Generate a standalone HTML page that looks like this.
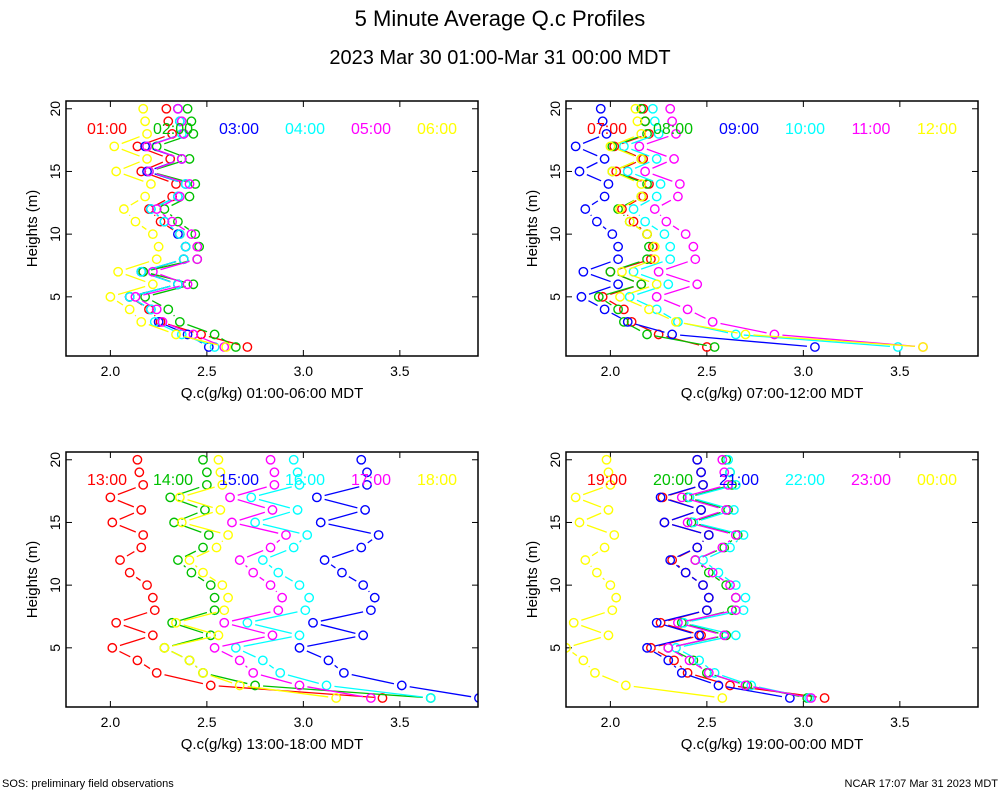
<!DOCTYPE html>
<html><head><meta charset="utf-8"><style>
body{margin:0;background:#fff;font-family:"Liberation Sans",sans-serif}
svg text{font-family:"Liberation Sans",sans-serif}
</style></head><body>
<svg id="c" width="1000" height="800" xmlns="http://www.w3.org/2000/svg">
<text x="500" y="26" font-size="22" text-anchor="middle">5 Minute Average Q.c Profiles</text>
<text x="500" y="64" font-size="20" text-anchor="middle">2023 Mar 30 01:00-Mar 31 00:00 MDT</text>
<text x="2" y="787" font-size="11">SOS: preliminary field observations</text>
<text x="998" y="787" font-size="11" text-anchor="end">NCAR 17:07 Mar 31 2023 MDT</text>
</svg>
<script>
const heights=[20,19,18,17,16,15,14,13,12,11,10,9,8,7,6,5,4,3,2,1];
const xTicks=[2.0,2.5,3.0,3.5];
const yTicks=[5,10,15,20];
const colors=["#ff0000","#00c000","#0000ff","#00ffff","#ff00ff","#ffff00"];
const labels1=["01:00","02:00","03:00","04:00","05:00","06:00"];
const labels2=["07:00","08:00","09:00","10:00","11:00","12:00"];
const labels3=["13:00","14:00","15:00","16:00","17:00","18:00"];
const labels4=["19:00","20:00","21:00","22:00","23:00","00:00"];
const p1s1=[2.29,2.30,2.32,2.14,2.31,2.16,2.34,2.32,2.20,2.26,2.36,2.39,2.38,2.17,2.35,2.10,2.20,2.26,2.47,2.71];
const p1s2=[2.40,2.42,2.43,2.24,2.41,2.20,2.44,2.41,2.28,2.35,2.44,2.46,2.45,2.17,2.43,2.18,2.30,2.36,2.54,2.65];
const p1s3=[2.35,2.36,2.38,2.18,2.37,2.19,2.39,2.35,2.21,2.28,2.35,2.39,2.38,2.16,2.35,2.10,2.21,2.25,2.40,2.51];
const p1s4=[2.35,2.36,2.37,2.19,2.37,2.20,2.39,2.35,2.21,2.28,2.36,2.39,2.38,2.16,2.35,2.10,2.21,2.23,2.37,2.54];
const p1s5=[2.35,2.37,2.38,2.19,2.37,2.20,2.41,2.36,2.24,2.32,2.42,2.45,2.45,2.22,2.40,2.13,2.24,2.27,2.43,2.59];
const p1s6=[2.17,2.18,2.19,2.02,2.19,2.03,2.21,2.18,2.07,2.13,2.22,2.25,2.24,2.04,2.22,2.00,2.10,2.16,2.34,2.60];
const p2s1=[2.17,2.18,2.20,2.02,2.17,2.03,2.20,2.17,2.06,2.12,2.19,2.22,2.21,2.00,2.16,1.96,2.07,2.11,2.25,2.50];
const p2s2=[2.16,2.18,2.19,2.01,2.16,2.01,2.19,2.16,2.04,2.10,2.19,2.20,2.19,2.00,2.16,1.94,2.04,2.07,2.19,2.54];
const p2s3=[1.95,1.96,1.98,1.82,1.97,1.84,1.99,1.97,1.87,1.93,2.01,2.04,2.04,1.86,2.04,1.85,1.97,2.09,2.32,3.06];
const p2s4=[2.22,2.23,2.25,2.07,2.24,2.09,2.26,2.24,2.12,2.18,2.28,2.31,2.31,2.12,2.30,2.10,2.24,2.35,2.65,3.49];
const p2s5=[2.31,2.32,2.34,2.15,2.33,2.18,2.36,2.35,2.23,2.29,2.39,2.43,2.44,2.25,2.45,2.24,2.40,2.53,2.85,3.62];
const p2s6=[2.13,2.14,2.16,2.00,2.16,2.01,2.16,2.16,2.05,2.10,2.19,2.23,2.23,2.06,2.24,2.05,2.20,2.34,2.70,3.62];
const p3s1=[2.14,2.15,2.17,2.00,2.16,2.01,2.17,2.16,2.05,2.10,2.19,2.22,2.23,2.03,2.22,2.01,2.14,2.24,2.52,3.41];
const p3s2=[2.48,2.50,2.50,2.31,2.49,2.33,2.51,2.48,2.35,2.42,2.52,2.54,2.54,2.32,2.52,2.28,2.41,2.48,2.75,3.66];
const p3s3=[3.30,3.33,3.33,3.07,3.32,3.09,3.39,3.30,3.11,3.20,3.31,3.37,3.35,3.05,3.31,2.98,3.13,3.21,3.51,3.91];
const p3s4=[2.95,2.97,2.98,2.73,2.97,2.75,3.02,2.95,2.79,2.87,2.98,3.03,3.01,2.71,2.98,2.65,2.79,2.88,3.12,3.66];
const p3s5=[2.83,2.85,2.85,2.62,2.84,2.63,2.91,2.83,2.67,2.74,2.83,2.89,2.87,2.59,2.84,2.54,2.67,2.74,2.98,3.35];
const p3s6=[2.56,2.57,2.58,2.36,2.57,2.37,2.61,2.55,2.41,2.48,2.58,2.61,2.59,2.34,2.56,2.28,2.41,2.48,2.67,3.17];
const p4s1=[2.45,2.47,2.48,2.27,2.47,2.28,2.51,2.45,2.32,2.39,2.48,2.51,2.50,2.26,2.47,2.21,2.33,2.40,2.62,3.11];
const p4s2=[2.60,2.62,2.63,2.40,2.61,2.42,2.66,2.59,2.44,2.51,2.60,2.65,2.63,2.37,2.60,2.30,2.43,2.50,2.71,3.02];
const p4s3=[2.45,2.47,2.48,2.26,2.47,2.28,2.51,2.45,2.31,2.39,2.48,2.51,2.50,2.24,2.46,2.19,2.30,2.37,2.56,2.93];
const p4s4=[2.61,2.62,2.65,2.41,2.64,2.43,2.69,2.62,2.48,2.56,2.65,2.70,2.69,2.38,2.65,2.34,2.46,2.54,2.73,3.03];
const p4s5=[2.58,2.59,2.61,2.37,2.60,2.40,2.65,2.58,2.44,2.53,2.62,2.65,2.65,2.35,2.59,2.30,2.41,2.51,2.70,3.04];
const p4s6=[1.98,1.99,2.00,1.82,1.99,1.84,2.02,1.97,1.87,1.93,2.00,2.03,2.01,1.81,1.99,1.77,1.86,1.92,2.08,2.58];

const NS="http://www.w3.org/2000/svg";
const svg=document.getElementById('c');
function mk(tag,attrs,parent){const e=document.createElementNS(NS,tag);for(const k in attrs)e.setAttribute(k,attrs[k]);(parent||svg).appendChild(e);return e;}
const XMIN=1.77,XMAX=3.905,YMIN=0.28,YMAX=20.62;
const panels=[
 {x:66,y:101,name:'panel-01-06',labels:labels1,series:[p1s1,p1s2,p1s3,p1s4,p1s5,p1s6],xl:'Q.c(g/kg) 01:00-06:00 MDT'},
 {x:566,y:101,name:'panel-07-12',labels:labels2,series:[p2s1,p2s2,p2s3,p2s4,p2s5,p2s6],xl:'Q.c(g/kg) 07:00-12:00 MDT'},
 {x:66,y:452,name:'panel-13-18',labels:labels3,series:[p3s1,p3s2,p3s3,p3s4,p3s5,p3s6],xl:'Q.c(g/kg) 13:00-18:00 MDT'},
 {x:566,y:452,name:'panel-19-00',labels:labels4,series:[p4s1,p4s2,p4s3,p4s4,p4s5,p4s6],xl:'Q.c(g/kg) 19:00-00:00 MDT'}];
const W=412,H=255;
panels.forEach((p,pi)=>{
 const g=mk('g',{});
 
 
 const xs=v=>p.x+(v-XMIN)/(XMAX-XMIN)*W;
 const ys=v=>p.y+H-(v-YMIN)/(YMAX-YMIN)*H;
 const cid='clip'+pi;
 const cp=mk('clipPath',{id:cid},g);mk('rect',{x:p.x,y:p.y,width:W,height:H},cp);
 xTicks.forEach(t=>{
  const X=xs(t);
  mk('line',{x1:X,x2:X,y1:p.y+H,y2:p.y+H-6,stroke:'#000'},g);
  mk('line',{x1:X,x2:X,y1:p.y,y2:p.y+6,stroke:'#000'},g);
  const tl=mk('text',{x:X,y:p.y+H+20,'font-size':14,'text-anchor':'middle'},g);
  tl.textContent=t.toFixed(1);
  
  
 });
 yTicks.forEach(t=>{
  const Y=ys(t);
  mk('line',{x1:p.x,x2:p.x+6,y1:Y,y2:Y,stroke:'#000'},g);
  mk('line',{x1:p.x+W,x2:p.x+W-6,y1:Y,y2:Y,stroke:'#000'},g);
  const tl=mk('text',{x:0,y:0,'font-size':14,'text-anchor':'middle',transform:`translate(${p.x-6},${Y}) rotate(-90)`},g);
  tl.textContent=t;
  
  
 });
 const yl=mk('text',{x:0,y:0,'font-size':15,'text-anchor':'middle',transform:`translate(${p.x-29},${p.y+H/2}) rotate(-90)`},g);
 yl.textContent='Heights (m)';
 
 
 const xl=mk('text',{x:p.x+W/2,y:p.y+H+42,'font-size':15,'text-anchor':'middle'},g);
 xl.textContent=p.xl;
 
 
 const dg=mk('g',{'clip-path':`url(#${cid})`},g);
 p.series.forEach((s,si)=>{
  const sg=mk('g',{},dg);
  
  
  for(let i=0;i<s.length-1;i++){
   const x1=xs(s[i]),y1=ys(heights[i]),x2=xs(s[i+1]),y2=ys(heights[i+1]);
   const dx=x2-x1,dy=y2-y1,L=Math.hypot(dx,dy),gap=8;
   if(L>2*gap){const ux=dx/L,uy=dy/L;
    const ln=mk('line',{x1:x1+ux*gap,y1:y1+uy*gap,x2:x2-ux*gap,y2:y2-uy*gap,stroke:colors[si],'stroke-width':1.3},sg);
    
    }
  }
  s.forEach((v,i)=>{
   const c=mk('circle',{cx:xs(v),cy:ys(heights[i]),r:4.2,fill:'none',stroke:colors[si],'stroke-width':1.4},sg);
   
   
  });
 });
 p.labels.forEach((l,li)=>{
  const t=mk('text',{x:p.x+41+li*66,y:p.y+33,'font-size':16,'text-anchor':'middle',fill:colors[li]},g);
  t.textContent=l;
  
  
 });
 mk('rect',{x:p.x,y:p.y,width:W,height:H,fill:'none',stroke:'#000','stroke-width':1.5},g);
});
</script>
</body></html>
